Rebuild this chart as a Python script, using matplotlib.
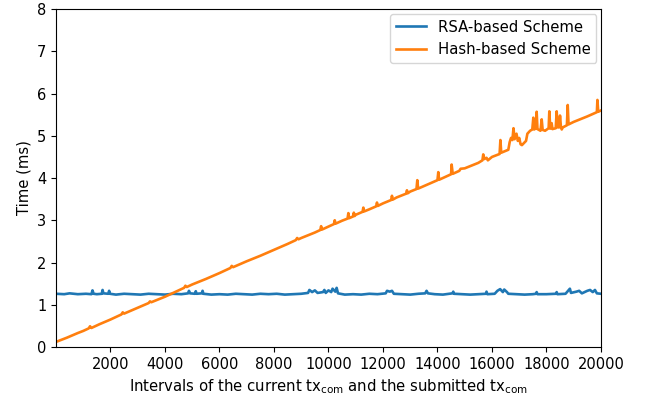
import matplotlib
matplotlib.use("Agg")
import matplotlib.pyplot as plt

# values
rsa_x = [0, 300, 500, 800, 1100, 1300, 1340, 1380, 1500, 1680, 1710, 1740, 1920, 1950, 1980,
         2200, 2500, 2800, 3100, 3400, 3700, 4000, 4300, 4600, 4850, 4880, 4920, 5100, 5130, 5160,
         5350, 5380, 5410, 5700, 6000, 6300, 6600, 6900, 7200, 7500, 7800, 8100, 8400, 8700,
         9000, 9250, 9300, 9400, 9500, 9600, 9800, 9850, 9900, 10000, 10100, 10150, 10250, 10300,
         10350, 10600, 10900, 11200, 11500, 11800, 12100, 12150, 12250, 12330, 12400, 12700,
         13000, 13300, 13550, 13600, 13650, 13900, 14200, 14550, 14580, 14610, 14900, 15200,
         15500, 15780, 15800, 15830, 16100, 16200, 16300, 16400, 16450, 16550, 16600, 16900,
         17200, 17500, 17620, 17640, 17670, 18000, 18350, 18375, 18400, 18700, 18860, 18900,
         19100, 19200, 19300, 19500, 19600, 19700, 19780, 19850, 20000]
rsa_y = [1.26, 1.25, 1.27, 1.25, 1.26, 1.25, 1.34, 1.26, 1.25, 1.26, 1.35, 1.27, 1.26, 1.33, 1.26,
         1.24, 1.26, 1.25, 1.24, 1.26, 1.25, 1.24, 1.26, 1.25, 1.27, 1.33, 1.27, 1.26, 1.32, 1.26,
         1.27, 1.33, 1.26, 1.24, 1.25, 1.24, 1.26, 1.25, 1.24, 1.26, 1.25, 1.26, 1.24, 1.25,
         1.26, 1.28, 1.35, 1.30, 1.34, 1.28, 1.30, 1.35, 1.28, 1.34, 1.30, 1.38, 1.31, 1.40,
         1.27, 1.24, 1.25, 1.24, 1.26, 1.25, 1.27, 1.33, 1.31, 1.33, 1.26, 1.25,
         1.24, 1.26, 1.27, 1.33, 1.27, 1.25, 1.24, 1.27, 1.31, 1.26, 1.25, 1.24,
         1.25, 1.26, 1.31, 1.25, 1.26, 1.33, 1.37, 1.30, 1.36, 1.30, 1.26, 1.25,
         1.24, 1.25, 1.26, 1.30, 1.25, 1.25, 1.26, 1.30, 1.25, 1.26, 1.38, 1.28,
         1.31, 1.33, 1.27, 1.33, 1.35, 1.30, 1.35, 1.27, 1.26]

hash_x = [0, 400, 800, 1000, 1200, 1250, 1300, 1600, 2000, 2400, 2450, 2500, 3000, 3400, 3450,
          3500, 4000, 4500, 4700, 4750, 4800, 5000, 5500, 6000, 6400, 6450, 6500, 7000, 7500,
          8000, 8500, 8800, 8850, 8900, 9000, 9500, 9700, 9730, 9760, 10000, 10200, 10230, 10260,
          10500, 10700, 10730, 10760, 10900, 10930, 10960, 11000, 11250, 11280, 11310, 11500,
          11750, 11780, 11810, 12000, 12300, 12330, 12360, 12500, 12850, 12880, 12910, 13000,
          13230, 13260, 13290, 13500, 14000, 14030, 14060, 14500, 14520, 14560, 14800, 14850,
          15000, 15500, 15650, 15680, 15720, 15800, 15850, 16000, 16280, 16310, 16340, 16600,
          16650, 16700, 16750, 16790, 16830, 16900, 16950, 17000, 17050, 17100, 17250, 17300,
          17400, 17480, 17518, 17550, 17610, 17640, 17670, 17780, 17825, 17860, 17950, 18080,
          18105, 18140, 18190, 18220, 18340, 18375, 18410, 18470, 18497, 18530, 18560, 18600,
          18750, 18780, 18810, 19000, 19500, 19850, 19870, 19900, 20000]
hash_y = [0.12, 0.22, 0.33, 0.38, 0.44, 0.49, 0.45, 0.54, 0.65, 0.77, 0.82, 0.79, 0.93, 1.04, 1.08,
          1.06, 1.19, 1.34, 1.40, 1.45, 1.42, 1.48, 1.61, 1.75, 1.87, 1.92, 1.89, 2.03, 2.16,
          2.30, 2.44, 2.53, 2.58, 2.55, 2.58, 2.71, 2.77, 2.86, 2.78, 2.85, 2.91, 3.00, 2.92,
          2.99, 3.04, 3.17, 3.05, 3.09, 3.18, 3.10, 3.13, 3.20, 3.30, 3.21, 3.26,
          3.33, 3.42, 3.34, 3.40, 3.48, 3.58, 3.49, 3.54, 3.63, 3.71, 3.64, 3.68,
          3.74, 3.95, 3.75, 3.81, 3.95, 4.14, 3.96, 4.09, 4.32, 4.10, 4.17, 4.22,
          4.23, 4.36, 4.42, 4.56, 4.45, 4.48, 4.42, 4.50, 4.57, 4.90, 4.60, 4.67,
          4.85, 4.95, 4.90, 5.18, 4.92, 5.05, 4.88, 4.95, 4.80, 4.78, 4.88, 5.05,
          5.12, 5.15, 5.43, 5.15, 5.18, 5.57, 5.16, 5.12, 5.39, 5.14, 5.12, 5.18,
          5.58, 5.17, 5.30, 5.16, 5.18, 5.58, 5.20, 5.20, 5.48, 5.22, 5.15, 5.20,
          5.25, 5.73, 5.27, 5.33, 5.46, 5.56, 5.85, 5.57, 5.60]

x_ticks = [2000, 4000, 6000, 8000, 10000, 12000, 14000, 16000, 18000, 20000]

fig = plt.figure(figsize=(6.48, 3.97), dpi=100)
ax = fig.add_axes([0.0864, 0.126, 0.841, 0.851])

ax.plot(rsa_x, rsa_y, color="tab:blue", linewidth=1.9, label="RSA-based Scheme")
ax.plot(hash_x, hash_y, color="tab:orange", linewidth=1.9, label="Hash-based Scheme")

ax.set_xlim(0, 20000)
ax.set_ylim(0, 8)
ax.set_xticks(x_ticks)
ax.tick_params(labelsize=10.5)
ax.set_xlabel(r"Intervals of the current tx$_\mathregular{com}$ and the submitted tx$_\mathregular{com}$",
              fontsize=10.7)
ax.set_ylabel("Time (ms)", fontsize=10.7)
ax.legend(loc="upper right", fontsize=10.7, borderaxespad=0.3)

fig.savefig("out.png", dpi=100)
